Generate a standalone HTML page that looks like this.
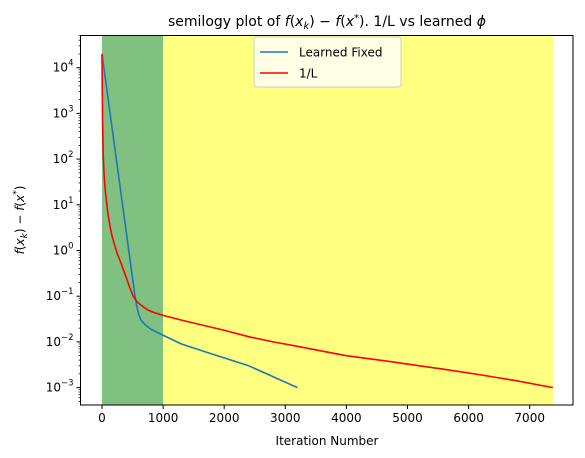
<!DOCTYPE html>
<html><head><meta charset="utf-8"><style>body{margin:0;background:#fff}svg{display:block;font-family:"DejaVu Sans","Liberation Sans",sans-serif}</style></head>
<body>
<svg id="c" width="585" height="458"></svg>
<script>
const blueIter=[0,540,570,600,640,700,800,1000,1300,1700,2400,3200];
const blueVal=[2e4,0.1,0.06,0.04,0.03,0.024,0.019,0.014,0.009,0.006,0.003,0.001];
const redIter=[0,3,6,10,15,20,30,40,55,70,100,130,160,200,250,295,350,400,450,510,560,600,680,750,850,1000,1300,1600,2000,2400,2800,3200,3600,4000,4600,5200,5700,6200,6800,7380];
const redVal=[2e4,6000,2000,600,250,120,60,35,20,13,6,3.5,2.2,1.4,0.85,0.6,0.38,0.25,0.16,0.1,0.08,0.07,0.058,0.05,0.044,0.038,0.03,0.024,0.018,0.013,0.01,0.008,0.0063,0.005,0.0039,0.003,0.0024,0.0019,0.0014,0.001];
const xTicks=[0,1000,2000,3000,4000,5000,6000,7000];
const yExps=[-3,-2,-1,0,1,2,3,4];
const spans=[[0,1000,'#80c080'],[1000,7380,'#ffff80']];
const L=80.5,R=573,T=35.5,B=405;
const xs=v=>102+v*0.0611;
const ys=v=>67.7-(Math.log10(v)-4)*45.7;
const s=document.getElementById('c');const NS='http://www.w3.org/2000/svg';
function mk(t,a,p){const e=document.createElementNS(NS,t);for(const k in a)e.setAttribute(k,a[k]);(p||s).appendChild(e);return e;}
spans.forEach((sp,i)=>{const r=mk('rect',{x:xs(sp[0]),y:T,width:xs(sp[1])-xs(sp[0]),height:B-T,fill:sp[2]});

});
function line(X,Y,c,n){const p=mk('polyline',{points:X.map((x,i)=>xs(x)+','+ys(Y[i])).join(' '),fill:'none',stroke:c,'stroke-width':1.6,'stroke-linejoin':'round'});

}
line(blueIter,blueVal,'#1f77b4','learned-fixed-line');
line(redIter,redVal,'red','one-over-l-line');
const f=mk('rect',{x:L,y:T,width:R-L,height:B-T,fill:'none',stroke:'#000','stroke-width':1});


xTicks.forEach(v=>{const x=xs(v);mk('line',{x1:x,x2:x,y1:B,y2:B+4,stroke:'#000'});
const t=mk('text',{x:x,y:B+17,'text-anchor':'middle','font-size':12});t.textContent=v;

});
for(let e=-4;e<=4;e++){for(let m=1;m<10;m++){const v=m*Math.pow(10,e);const y=ys(v);if(y<T||y>B)continue;
mk('line',{x1:L,x2:L-(m==1?4:2),y1:y,y2:y,stroke:'#000','stroke-width':m==1?1:0.7});}}
yExps.forEach(e=>{const y=ys(Math.pow(10,e));const t=mk('text',{x:L-7,y:y+4,'text-anchor':'end','font-size':12});
t.innerHTML='10<tspan dy="-6" font-size="8.5">'+(e<0?'\u2212'+(-e):e)+'</tspan>';

});
</script>
<svg width="585" height="458" style="position:absolute;left:0;top:0;font-family:'DejaVu Sans','Liberation Sans',sans-serif">
<text x="327" y="26" text-anchor="middle" font-size="14">semilogy plot of <tspan font-style="italic">f</tspan>(<tspan font-style="italic">x<tspan font-size="10" dy="3">k</tspan></tspan><tspan dy="-3">) − </tspan><tspan font-style="italic">f</tspan>(<tspan font-style="italic">x</tspan><tspan font-size="10" dy="-5">*</tspan><tspan dy="5">). 1/L vs learned </tspan><tspan font-style="italic">ϕ</tspan></text>
<text x="327" y="445" text-anchor="middle" font-size="12">Iteration Number</text>
<text transform="translate(24,220) rotate(-90)" text-anchor="middle" font-size="12"><tspan font-style="italic">f</tspan>(<tspan font-style="italic">x</tspan><tspan font-size="9" dy="3" font-style="italic">k</tspan><tspan dy="-3">) − </tspan><tspan font-style="italic">f</tspan>(<tspan font-style="italic">x</tspan><tspan font-size="9" dy="-5">*</tspan><tspan dy="5">)</tspan></text>
<g>
<rect x="254" y="37" width="147" height="50" rx="3" fill="#fff" fill-opacity="0.8" stroke="#ccc"/>
<line x1="260" x2="288" y1="52" y2="52" stroke="#1f77b4" stroke-width="1.6"/>
<text x="299" y="56.5" font-size="12">Learned Fixed</text>
<line x1="260" x2="288" y1="73" y2="73" stroke="red" stroke-width="1.6"/>
<text x="299" y="77.5" font-size="12">1/L</text>
</g>
</svg>
</body></html>
